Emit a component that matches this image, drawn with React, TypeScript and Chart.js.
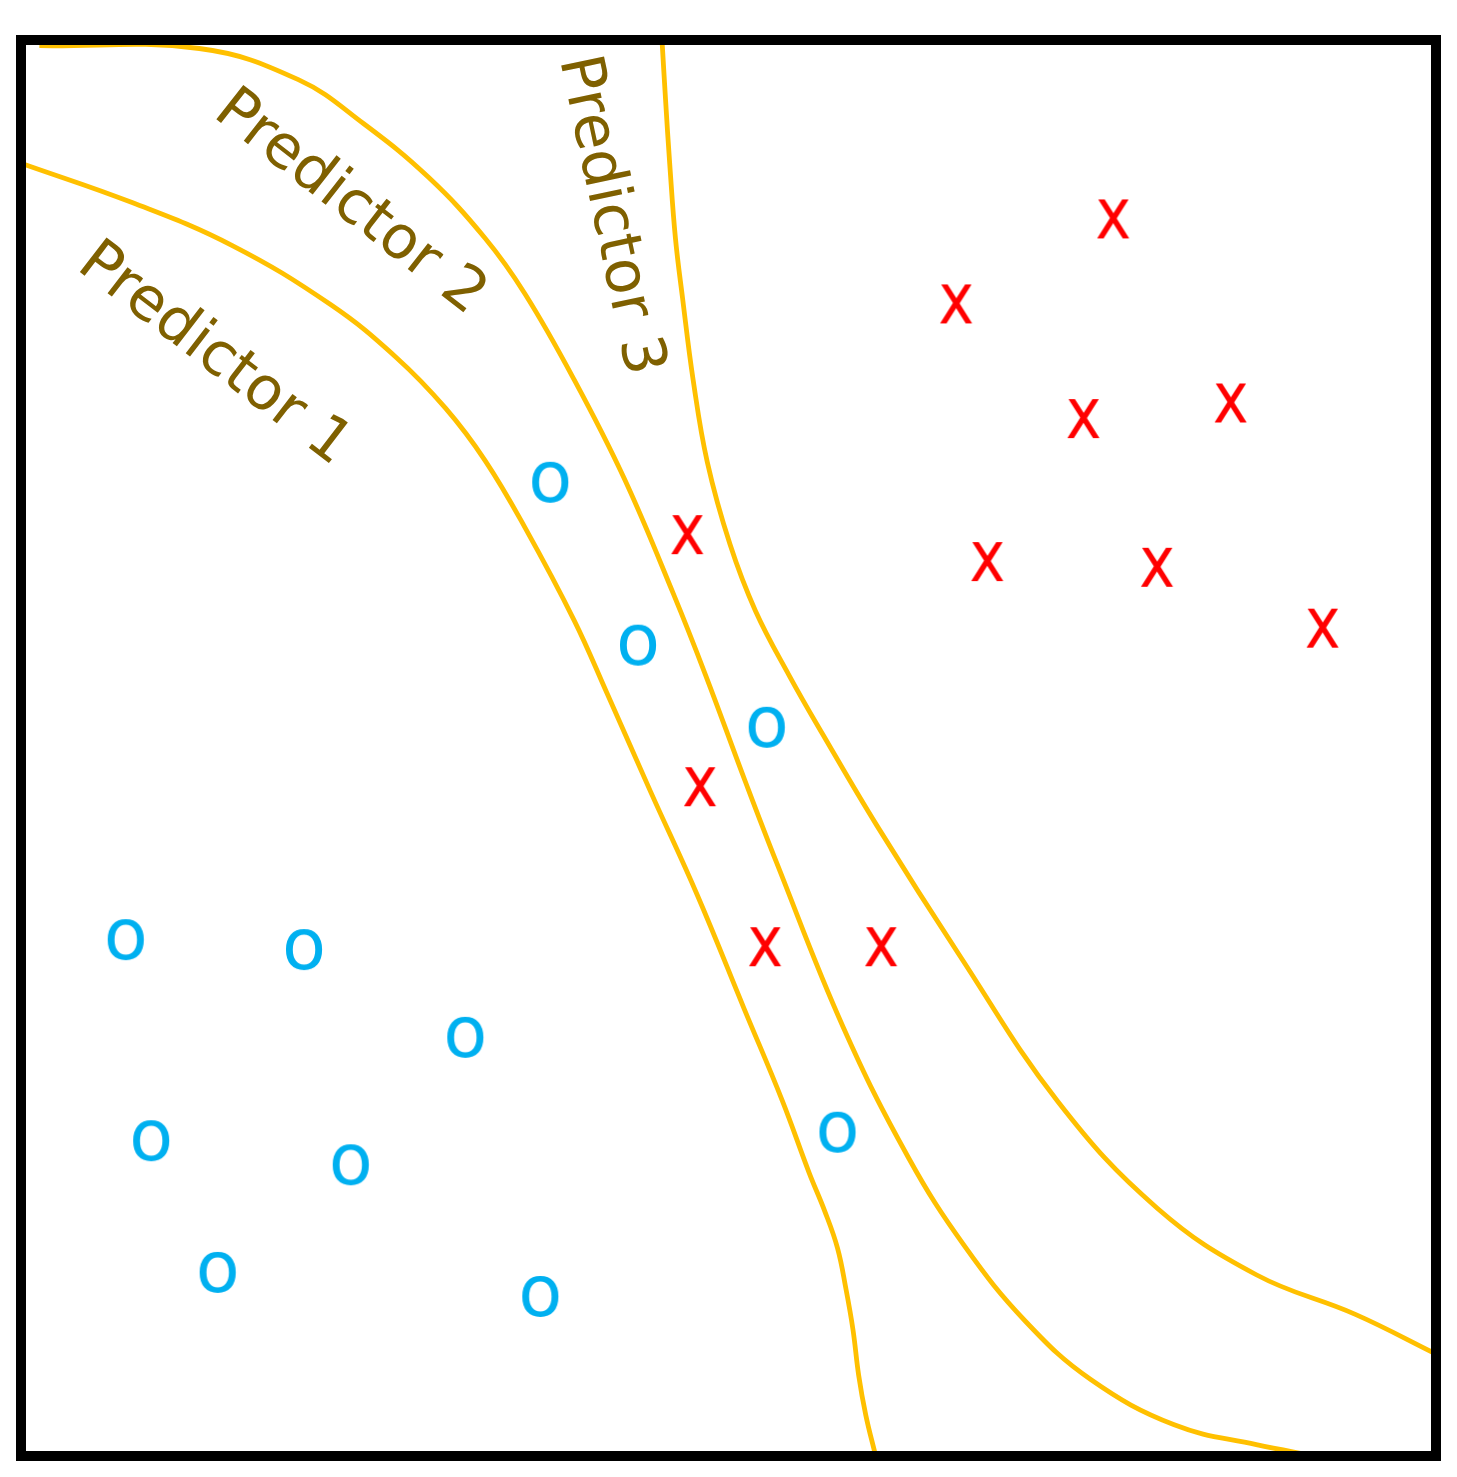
import React, { useEffect, useRef } from "react";
import { Chart, registerables } from "chart.js";

Chart.register(...registerables);

// Class "o" samples (x, y in data units 0..10, y upward)
const circleX = [3.74, 4.36, 5.27, 5.77, 3.67, 0.74, 2.0, 3.14, 0.92, 2.33, 1.39];
const circleY = [6.88, 5.73, 5.15, 2.29, 1.13, 3.65, 3.58, 2.96, 2.23, 2.06, 1.3];

// Class "x" samples
const crossX = [4.71, 4.8, 5.26, 6.08, 7.72, 6.61, 7.51, 8.55, 6.83, 8.03, 9.2];
const crossY = [6.51, 4.73, 3.6, 3.6, 8.74, 8.14, 7.33, 7.44, 6.32, 6.28, 5.85];

// Decision boundary curves
const pred1X = [0, 0.79, 1.49, 2.19, 2.65, 3.0, 3.28, 3.56, 3.91, 4.14, 4.45, 4.78, 5.11, 5.38, 5.57, 5.68, 5.77, 5.83, 5.88, 5.92, 5.97, 6.04];
const pred1Y = [9.13, 8.85, 8.55, 8.13, 7.76, 7.4, 7.03, 6.56, 5.9, 5.39, 4.69, 3.96, 3.16, 2.51, 2.0, 1.73, 1.47, 1.18, 0.89, 0.57, 0.29, 0];

const pred2X = [0.13, 1.26, 1.96, 2.42, 2.88, 3.28, 3.56, 3.91, 4.26, 4.61, 4.84, 5.12, 5.34, 5.81, 6.27, 6.67, 7.1, 7.56, 8.15, 8.73, 9.15];
const pred2Y = [9.96, 9.94, 9.72, 9.41, 9.03, 8.6, 8.21, 7.6, 6.91, 6.09, 5.51, 4.76, 4.19, 3.03, 2.11, 1.48, 0.95, 0.54, 0.22, 0.08, 0];

const pred3X = [4.53, 4.555, 4.585, 4.625, 4.675, 4.75, 4.85, 5.01, 5.19, 5.43, 5.67, 6.05, 6.63, 7.33, 8.03, 8.73, 9.43, 10.0];
const pred3Y = [10.0, 9.58, 9.12, 8.6, 8.18, 7.6, 7.02, 6.44, 5.97, 5.51, 5.09, 4.45, 3.54, 2.5, 1.75, 1.28, 1.0, 0.72];

// Curve labels
const labelTexts = ["Predictor 1", "Predictor 2", "Predictor 3"];
const labelX = [1.39, 2.35, 4.2];
const labelY = [7.81, 8.88, 8.77];
const labelAngle = [37.5, 38, 78];

const zip = (xs: number[], ys: number[]) => xs.map((x, i) => ({ x, y: ys[i] }));

function glyphCanvas(ch: string, color: string, scaleX: number): HTMLCanvasElement {
  const c = document.createElement("canvas");
  c.width = 90;
  c.height = 90;
  const ctx = c.getContext("2d")!;
  ctx.font = "72px 'DejaVu Sans'";
  ctx.fillStyle = color;
  ctx.textAlign = "center";
  ctx.textBaseline = "alphabetic";
  const m = ctx.measureText(ch);
  const asc = m.actualBoundingBoxAscent;
  const desc = m.actualBoundingBoxDescent;
  const inkCx = (m.actualBoundingBoxRight - m.actualBoundingBoxLeft) / 2;
  ctx.translate(45, 45 + (asc - desc) / 2);
  ctx.scale(scaleX, 1);
  ctx.fillText(ch, -inkCx, 0);
  return c;
}

const framePlugin = {
  id: "frameAndLabels",
  afterDatasetsDraw(chart: any) {
    const { ctx, chartArea, scales } = chart;
    ctx.save();
    ctx.fillStyle = "#7F6000";
    ctx.font = "60px 'DejaVu Sans'";
    ctx.textAlign = "center";
    ctx.textBaseline = "alphabetic";
    labelTexts.forEach((t, i) => {
      const px = scales.x.getPixelForValue(labelX[i]);
      const py = scales.y.getPixelForValue(labelY[i]);
      ctx.save();
      ctx.translate(px, py);
      ctx.rotate((labelAngle[i] * Math.PI) / 180);
      ctx.fillText(t, 0, 22);
      ctx.restore();
    });
    ctx.strokeStyle = "#000000";
    ctx.lineWidth = 10;
    ctx.strokeRect(
      chartArea.left,
      chartArea.top,
      chartArea.right - chartArea.left,
      chartArea.bottom - chartArea.top
    );
    ctx.restore();
  },
};

export default function App() {
  const ref = useRef<HTMLCanvasElement | null>(null);

  useEffect(() => {
    document.body.style.margin = "0";
    document.documentElement.style.overflow = "hidden";
    if (!ref.current) return;
    const oImg = glyphCanvas("o", "#00B0F0", 1);
    const xImg = glyphCanvas("x", "#FF0000", 0.84);
    const lineDs = (xs: number[], ys: number[]) => ({
      type: "line" as const,
      data: zip(xs, ys),
      borderColor: "#FFC000",
      borderWidth: 4.8,
      pointRadius: 0,
      tension: 0.4,
      fill: false,
      showLine: true,
    });
    const chart = new Chart(ref.current, {
      type: "scatter",
      data: {
        datasets: [
          lineDs(pred1X, pred1Y),
          lineDs(pred2X, pred2Y),
          lineDs(pred3X, pred3Y),
          {
            type: "scatter",
            data: zip(circleX, circleY),
            pointStyle: oImg as any,
            pointRadius: 20,
          },
          {
            type: "scatter",
            data: zip(crossX, crossY),
            pointStyle: xImg as any,
            pointRadius: 20,
          },
        ] as any,
      },
      options: {
        responsive: false,
        animation: false,
        layout: { padding: { left: 20, top: 40, right: 5, bottom: 5 } },
        plugins: { legend: { display: false }, tooltip: { enabled: false } },
        scales: {
          x: { type: "linear", min: 0, max: 10, display: false },
          y: { type: "linear", min: 0, max: 10, display: false },
        },
      },
      plugins: [framePlugin],
    });
    return () => chart.destroy();
  }, []);

  return (
    <div style={{ width: 1457, height: 1477, overflow: "hidden", background: "#fff" }}>
      <canvas
        ref={ref}
        width={1457}
        height={1477}
        style={{ display: "block", width: 1457, height: 1477 }}
      />
    </div>
  );
}
